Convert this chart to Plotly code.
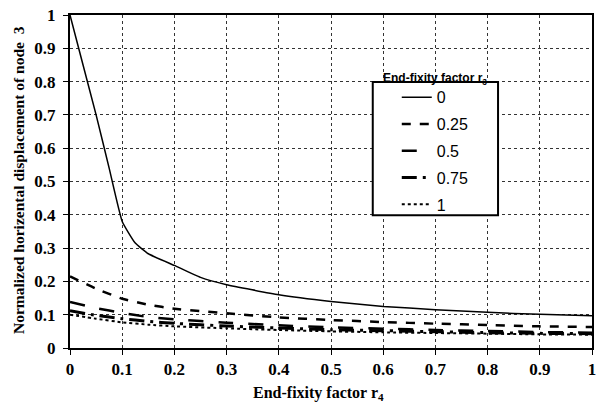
import plotly.graph_objects as go

# r4 values (x) and normalized displacement per r3
x_r0 = [0, 0.025, 0.05, 0.075, 0.1, 0.125, 0.15, 0.2, 0.25, 0.3, 0.4, 0.5, 0.6, 0.7, 0.8, 0.9, 1.0]
y_r0 = [1.0, 0.85, 0.70, 0.54, 0.38, 0.315, 0.283, 0.248, 0.212, 0.19, 0.16, 0.14, 0.125, 0.115, 0.107, 0.101, 0.097]

x_r = [0, 0.05, 0.1, 0.15, 0.2, 0.3, 0.4, 0.5, 0.6, 0.7, 0.8, 0.9, 1.0]
y_r025 = [0.215, 0.178, 0.148, 0.130, 0.118, 0.104, 0.092, 0.084, 0.078, 0.073, 0.069, 0.065, 0.063]
y_r05 = [0.138, 0.120, 0.105, 0.093, 0.086, 0.076, 0.068, 0.062, 0.058, 0.054, 0.051, 0.048, 0.046]
y_r075 = [0.112, 0.098, 0.088, 0.080, 0.074, 0.066, 0.060, 0.055, 0.052, 0.049, 0.046, 0.044, 0.043]
y_r1 = [0.100, 0.088, 0.077, 0.070, 0.065, 0.059, 0.054, 0.050, 0.047, 0.045, 0.043, 0.041, 0.040]

series = [
    ("0", x_r0, y_r0, "solid", 1.5),
    ("0.25", x_r, y_r025, "dash", 2.5),
    ("0.5", x_r, y_r05, "longdash", 2.5),
    ("0.75", x_r, y_r075, "longdashdot", 3),
    ("1", x_r, y_r1, "dot", 2),
]

fig = go.Figure()
for i, (name, xs, ys, dash, w) in enumerate(series):
    fig.add_trace(go.Scatter(
        x=xs, y=ys, mode="lines", name=name, legendgroup="g%d" % i,
        line=dict(color="black", dash=dash, width=w, shape="spline", smoothing=0.4),
    ))

serif = "Liberation Serif"
axis_common = dict(
    showgrid=True, gridcolor="#333", griddash="dot", gridwidth=1,
    showline=True, linecolor="black", linewidth=2, mirror=True,
    ticks="outside", ticklen=5, tickcolor="black", tickwidth=1,
    tickfont=dict(family=serif, size=17, color="black", weight="bold"),
    zeroline=False, dtick=0.1, tick0=0, automargin=False,
)

fig.update_layout(
    width=603, height=405,
    margin=dict(l=70, r=11, t=15, b=57),
    paper_bgcolor="white", plot_bgcolor="white",
    xaxis=dict(range=[0, 1], **axis_common),
    yaxis=dict(range=[0, 1], ticklabelstandoff=4, **axis_common),
    showlegend=True,
    legend=dict(
        x=0.626, y=0.804, xanchor="left", yanchor="top",
        bgcolor="rgba(0,0,0,0)", borderwidth=0,
        font=dict(family="Liberation Sans", size=16, color="black"),
        tracegroupgap=3, itemwidth=30,
    ),
    shapes=[dict(
        type="rect", xref="paper", yref="paper",
        x0=0.580, x1=0.820, y0=0.399, y1=0.799,
        line=dict(color="black", width=2), fillcolor="white", layer="above",
    )],
    annotations=[
        dict(text="<b>End-fixity factor r<sub>3</sub></b>", xref="paper", yref="paper",
             x=0.700, y=(348 - 79) / 333, xanchor="center", yanchor="middle", showarrow=False,
             font=dict(family="Liberation Sans", size=12, color="black")),
        dict(text="<b>End-fixity factor r<sub>4</sub></b>", xref="paper", yref="paper",
             x=(318 - 70) / 522, y=-(393 - 348) / 333, xanchor="center", yanchor="middle",
             showarrow=False, font=dict(family=serif, size=16, color="black")),
        dict(text="<b>Normalized horizental displacement of node  3</b>", xref="paper", yref="paper",
             x=-(70 - 18) / 522, y=(348 - 180) / 333, xanchor="center", yanchor="middle",
             textangle=-90, showarrow=False, font=dict(family=serif, size=15.5, color="black")),
    ],
)

fig.write_html("out.html", config={"displayModeBar": False},
               post_script="document.body.style.margin='0px';")
